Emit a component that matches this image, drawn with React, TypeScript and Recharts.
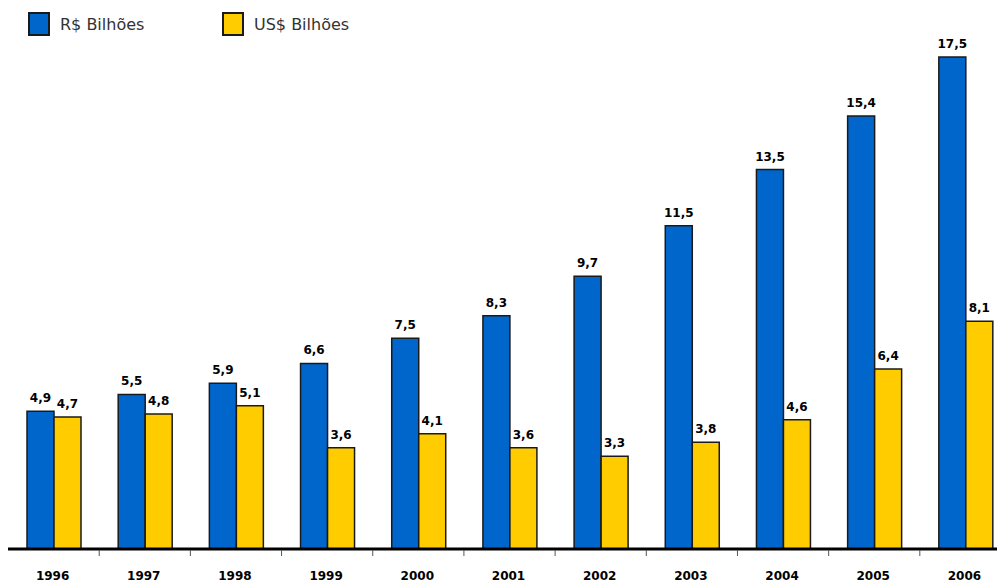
import { BarChart, Bar, XAxis, YAxis, LabelList } from "recharts";

const years = ["1996", "1997", "1998", "1999", "2000", "2001", "2002", "2003", "2004", "2005", "2006"];
const reais = [4.9, 5.5, 5.9, 6.6, 7.5, 8.3, 9.7, 11.5, 13.5, 15.4, 17.5];
const dolares = [4.7, 4.8, 5.1, 3.6, 4.1, 3.6, 3.3, 3.8, 4.6, 6.4, 8.1];

const BLUE = "#0066CC";
const YELLOW = "#FFCC00";
const FONT = "'DejaVu Sans', Verdana, sans-serif";

const data = years.map((ano, i) => ({ ano, reais: reais[i], dolares: dolares[i] }));

const fmt = (v: unknown) => Number(v).toFixed(1).replace(".", ",");

const BAND = 91.2;

function YearTick(props: any) {
  const { x, y, payload } = props;
  return (
    <g>
      <line x1={x + BAND / 2} x2={x + BAND / 2} y1={y + 1} y2={y + 7} stroke="#555" strokeWidth={1} />
      <text x={x - 1} y={y + 31} textAnchor="middle" fontFamily={FONT} fontWeight="bold" fontSize={12} fill="#000">
        {payload.value}
      </text>
    </g>
  );
}

function LegendItem({ color, text, left }: { color: string; text: string; left: number }) {
  return (
    <div style={{ position: "absolute", left, top: 12, display: "flex", alignItems: "center" }}>
      <div style={{ width: 18, height: 20, background: color, border: "2px solid #1a1a1a" }} />
      <span style={{ marginLeft: 10, fontFamily: FONT, fontSize: 16, color: "#333" }}>{text}</span>
    </div>
  );
}

const labelStyle = { fontFamily: FONT, fontWeight: "bold", fontSize: 12, fill: "#000" };

export default function App() {
  return (
    <div style={{ position: "fixed", left: 0, top: 0, width: 997, height: 585, overflow: "hidden", background: "#fff" }}>
      <LegendItem color={BLUE} text="R$ Bilhões" left={28} />
      <LegendItem color={YELLOW} text="US$ Bilhões" left={222} />
      <BarChart
        width={1011}
        height={585}
        data={data}
        margin={{ top: 43, right: 0, bottom: 0, left: 8 }}
        barCategoryGap={19}
        barGap={0}
      >
        <XAxis
          dataKey="ano"
          height={36}
          axisLine={{ stroke: "#000", strokeWidth: 3 }}
          tickLine={false}
          tickSize={0}
          tickMargin={0}
          tick={<YearTick />}
          interval={0}
        />
        <YAxis hide domain={[0, 18]} />
        <Bar dataKey="reais" fill={BLUE} stroke="#1a1a1a" strokeWidth={1.5} isAnimationActive={false}>
          <LabelList dataKey="reais" position="top" offset={9} formatter={fmt} style={labelStyle} />
        </Bar>
        <Bar dataKey="dolares" fill={YELLOW} stroke="#1a1a1a" strokeWidth={1.5} isAnimationActive={false}>
          <LabelList dataKey="dolares" position="top" offset={9} formatter={fmt} style={labelStyle} />
        </Bar>
      </BarChart>
    </div>
  );
}
